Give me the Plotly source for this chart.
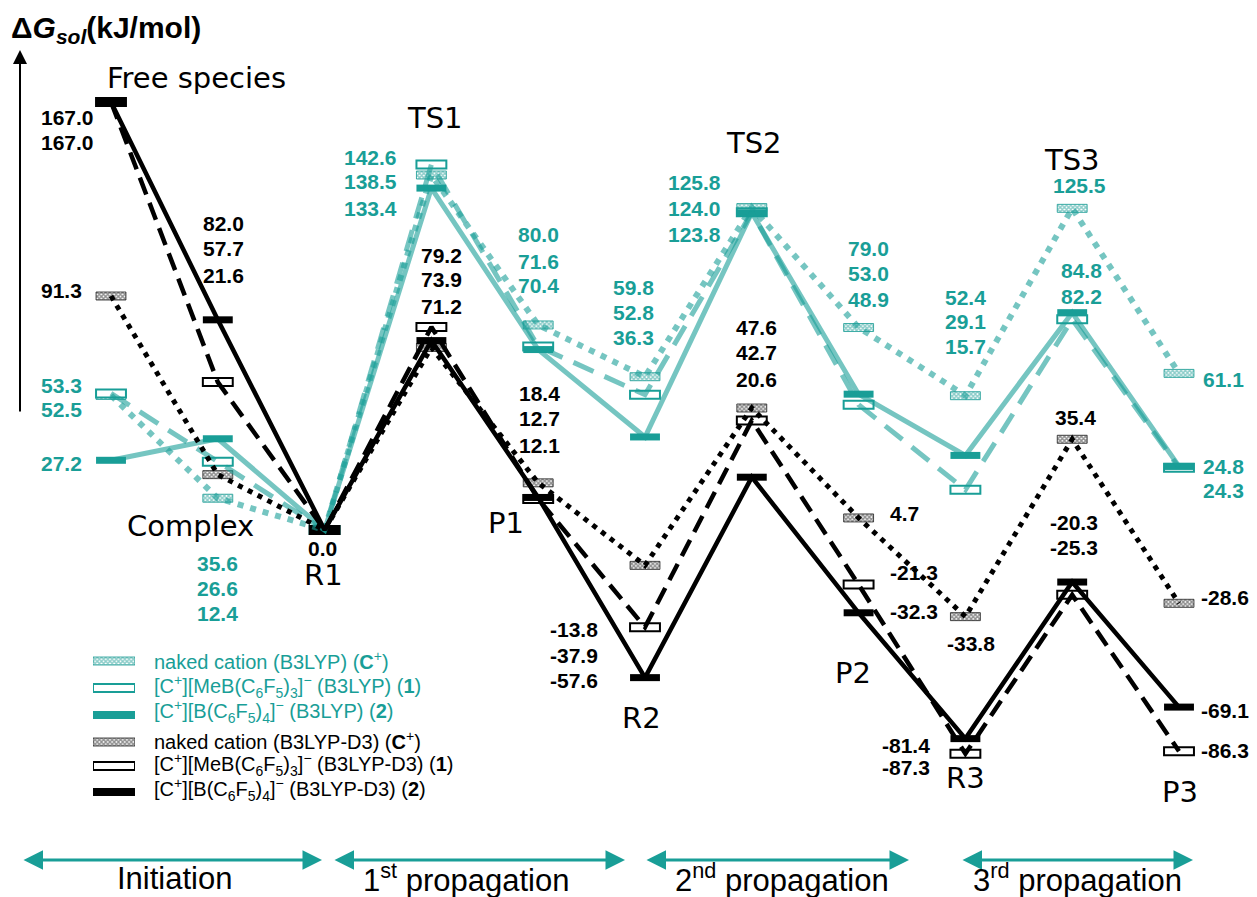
import plotly.graph_objects as go

# ---------------- data ----------------
columns = ["Free species", "Complex", "R1", "TS1", "P1", "R2", "TS2", "P2", "R3", "TS3", "P3"]

# B3LYP (teal)
b3_Cplus = [52.5, 12.4, 0.0, 138.5, 80.0, 59.8, 125.8, 79.0, 52.4, 125.5, 61.1]
b3_1 = [53.3, 26.6, 0.0, 142.6, 71.6, 52.8, 124.0, 48.9, 15.7, 82.2, 24.3]
b3_2 = [27.2, 35.6, 0.0, 133.4, 70.4, 36.3, 123.8, 53.0, 29.1, 84.8, 24.8]
# B3LYP-D3 (black)
d3_Cplus = [91.3, 21.6, 0.0, 71.2, 18.4, -13.8, 47.6, 4.7, -33.8, 35.4, -28.6]
d3_1 = [167.0, 57.7, 0.0, 79.2, 12.1, -37.9, 42.7, -21.3, -87.3, -25.3, -86.3]
d3_2 = [167.0, 82.0, 0.0, 73.9, 12.7, -57.6, 20.6, -32.3, -81.4, -20.3, -69.1]

legend_names = [
    "naked cation (B3LYP) (<b>C</b><sup>+</sup>)",
    "[C<sup>+</sup>][MeB(C<sub>6</sub>F<sub>5</sub>)<sub>3</sub>]<sup>\u2212</sup> (B3LYP) (<b>1</b>)",
    "[C<sup>+</sup>][B(C<sub>6</sub>F<sub>5</sub>)<sub>4</sub>]<sup>\u2212</sup> (B3LYP) (<b>2</b>)",
    "naked cation (B3LYP-D3) (<b>C</b><sup>+</sup>)",
    "[C<sup>+</sup>][MeB(C<sub>6</sub>F<sub>5</sub>)<sub>3</sub>]<sup>\u2212</sup> (B3LYP-D3) (<b>1</b>)",
    "[C<sup>+</sup>][B(C<sub>6</sub>F<sub>5</sub>)<sub>4</sub>]<sup>\u2212</sup> (B3LYP-D3) (<b>2</b>)",
]
stages = ["Initiation", "1<sup>st</sup> propagation", "2<sup>nd</sup> propagation", "3<sup>rd</sup> propagation"]

# ---------------- style ----------------
W, H = 1257, 897
M = 8                      # default page (body) margin of the html page
TEAL = "#199e97"
TEAL_LINE = "rgba(25,158,151,0.6)"
BLACK = "#000000"
GRAY_PAT = "#1e1e1e"
TEAL_PAT = "#179a93"
PX_PER_UNIT = 2.563        # pixels per kJ/mol
ZERO_PX = 530              # page pixel row of 0 kJ/mol
COL0_PX, COL_STEP = 111, 106.8
BAR_W = 0.28

idx = list(range(len(columns)))

# axis ranges so that the data land on the reference's page pixels
y_top = (ZERO_PX - M) / PX_PER_UNIT
y_bot = (ZERO_PX - M - H) / PX_PER_UNIT
x_lo = -(COL0_PX - M) / COL_STEP
x_hi = x_lo + W / COL_STEP


def P(px, py):
    return (px - M) / W, 1 - (py - M) / H


def marker_for(kind, color, pat):
    if kind == "filled":
        return dict(color=color, line=dict(width=0))
    if kind == "open":
        return dict(color="white", line=dict(color=color, width=2))
    return dict(color="white",
                pattern=dict(shape="x", fgcolor=pat, bgcolor="white", size=3, solidity=0.7, fillmode="overlay"),
                line=dict(color=pat, width=0.8))


series = [
    # values, kind, color, pattern color, line dash, line color, line width
    (b3_Cplus, "hatched", TEAL, TEAL_PAT, "6px,7px", TEAL_LINE, 6),
    (b3_1, "open", TEAL, TEAL_PAT, "22px,12px", TEAL_LINE, 5),
    (b3_2, "filled", TEAL, TEAL_PAT, "solid", TEAL_LINE, 5),
    (d3_Cplus, "hatched", BLACK, GRAY_PAT, "5px,6px", BLACK, 5),
    (d3_1, "open", BLACK, GRAY_PAT, "18px,9px", BLACK, 4.5),
    (d3_2, "filled", BLACK, GRAY_PAT, "solid", BLACK, 4.5),
]

fig = go.Figure()

# connecting lines
for vals, kind, col, pat, dash, lcol, lw in series:
    fig.add_trace(go.Scatter(x=idx, y=vals, mode="lines",
                             line=dict(color=lcol, width=lw, dash=dash),
                             hoverinfo="skip", showlegend=False))

# energy level bars
for vals, kind, col, pat, dash, lcol, lw in series:
    h_px = 7 if kind == "filled" else 8
    h = h_px / PX_PER_UNIT
    fig.add_trace(go.Bar(x=idx, y=[h] * len(vals), base=[v - h / 2 for v in vals],
                         width=BAR_W, marker=marker_for(kind, col, pat),
                         hoverinfo="skip", showlegend=False))

# legend swatches on a helper axis (pixel rows)
legend_rows = [661, 688, 715, 742, 766, 792]
for (vals, kind, col, pat, dash, lcol, lw), row in zip(series, legend_rows):
    h = 8
    fig.add_trace(go.Bar(x=[0.5], y=[h], base=[row - M - h / 2], width=[1],
                         marker=marker_for(kind, col, pat), xaxis="x2", yaxis="y2",
                         hoverinfo="skip", showlegend=False))

annotations = []

VAL_FONT = "Liberation Sans, Arial, sans-serif"
BIG_FONT = "DejaVu Sans, Verdana, sans-serif"


def add_text(px, py, text, size, color=BLACK, family=VAL_FONT, xanchor="center"):
    x, y = P(px, py)
    annotations.append(dict(x=x, y=y, xref="paper", yref="paper", text=text, showarrow=False,
                            xanchor=xanchor, yanchor="middle",
                            font=dict(family=family, size=size, color=color)))


def add_arrow(hx, hy, tx, ty, color, width, size, both=False):
    x, y = P(hx, hy)
    annotations.append(dict(x=x, y=y, xref="paper", yref="paper",
                            ax=tx - hx, ay=ty - hy, axref="pixel", ayref="pixel",
                            text="", showarrow=True, arrowhead=2,
                            arrowside="end+start" if both else "end",
                            arrowsize=size, arrowwidth=width, arrowcolor=color,
                            standoff=0, startstandoff=0))


# value labels: (series list, column, x px, y px list, anchor, colour)
label_groups = [
    ([d3_1, d3_2], 0, 67, [118, 142], "center", BLACK),
    ([d3_Cplus], 0, 61, [290], "center", BLACK),
    ([b3_1, b3_Cplus, b3_2], 0, 61, [385, 410, 463], "center", TEAL),
    ([d3_2, d3_1, d3_Cplus], 1, 224, [223, 248, 275], "center", BLACK),
    ([b3_2, b3_1, b3_Cplus], 1, 217, [563, 588, 613], "center", TEAL),
    ([d3_2], 2, 322, [548], "center", BLACK),
    ([b3_1, b3_Cplus, b3_2], 3, 370, [157, 182, 208], "center", TEAL),
    ([d3_1, d3_2, d3_Cplus], 3, 441, [256, 280, 307], "center", BLACK),
    ([b3_Cplus, b3_1, b3_2], 4, 538, [235, 261, 286], "center", TEAL),
    ([d3_Cplus, d3_2, d3_1], 4, 539, [393, 418, 445], "center", BLACK),
    ([b3_Cplus, b3_1, b3_2], 5, 633, [287, 312, 337], "center", TEAL),
    ([d3_Cplus, d3_1, d3_2], 5, 574, [629, 655, 680], "center", BLACK),
    ([b3_Cplus, b3_1, b3_2], 6, 694, [183, 208, 234], "center", TEAL),
    ([d3_Cplus, d3_1, d3_2], 6, 756, [327, 353, 379], "center", BLACK),
    ([b3_Cplus, b3_2, b3_1], 7, 868, [248, 273, 299], "center", TEAL),
    ([d3_Cplus, d3_1, d3_2], 7, 888, [513, 572, 611], "left", BLACK),
    ([b3_Cplus, b3_2, b3_1], 8, 966, [297, 321, 346], "center", TEAL),
    ([d3_Cplus], 8, 971, [643], "center", BLACK),
    ([d3_2, d3_1], 8, 932, [745, 767], "right", BLACK),
    ([b3_Cplus], 9, 1079, [186], "center", TEAL),
    ([b3_2, b3_1], 9, 1081, [271, 296], "center", TEAL),
    ([d3_Cplus], 9, 1075, [417], "center", BLACK),
    ([d3_2, d3_1], 9, 1074, [522, 547], "center", BLACK),
    ([b3_Cplus, b3_2, b3_1], 10, 1201, [380, 466, 490], "left", TEAL),
    ([d3_Cplus, d3_2, d3_1], 10, 1199, [597, 710, 750], "left", BLACK),
]
for sers, c, px, pys, anchor, color in label_groups:
    for s, py in zip(sers, pys):
        add_text(px, py, f"<b>{s[c]:.1f}</b>", 21, color, VAL_FONT, anchor)

# state labels
state_pos = [(196, 78), (190, 526), (323, 575), (435, 118), (506, 523), (641, 718),
             (754, 143), (853, 673), (966, 778), (1072, 160), (1180, 792)]
for name, (px, py) in zip(columns, state_pos):
    add_text(px, py, name, 29, BLACK, BIG_FONT)

# title
x0, y0 = P(9, 30)
annotations.append(dict(x=x0, y=y0, xref="paper", yref="paper", showarrow=False,
                        xanchor="left", yanchor="middle",
                        text="<b>\u0394<i>G</i><sub><i>sol</i></sub>(kJ/mol)</b>",
                        font=dict(family=VAL_FONT, size=30, color=BLACK)))

# vertical energy arrow
add_arrow(20, 50, 20, 413, BLACK, 2, 1.4)

# legend labels
legend_text_rows = [660, 686, 711, 740, 764, 789]
legend_colors = [TEAL, TEAL, TEAL, BLACK, BLACK, BLACK]
for name, py, col in zip(legend_names, legend_text_rows, legend_colors):
    add_text(152, py, name, 20, col, VAL_FONT, "left")

# stage arrows and labels
stage_spans = [(22, 322), (333, 625), (645, 909), (961, 1193)]
stage_centers = [174, 466, 782, 1077]
for (a, b), cx, txt in zip(stage_spans, stage_centers, stages):
    add_arrow(b, 860, a, 860, TEAL, 3, 1.3, both=True)
    add_text(cx, 878, txt, 31, BLACK, VAL_FONT)

fig.update_layout(
    width=W, height=H,
    margin=dict(l=0, r=0, t=0, b=0),
    paper_bgcolor="white", plot_bgcolor="rgba(0,0,0,0)",
    barmode="overlay",
    showlegend=False,
    xaxis=dict(range=[x_lo, x_hi], visible=False, fixedrange=True),
    yaxis=dict(range=[y_bot, y_top], visible=False, fixedrange=True),
    xaxis2=dict(domain=[(93 - M) / W, (135 - M) / W], range=[0, 1], visible=False, anchor="y2"),
    yaxis2=dict(domain=[0, 1], range=[H, 0], visible=False, anchor="x2"),
    annotations=annotations,
)

fig.write_html("out.html")
